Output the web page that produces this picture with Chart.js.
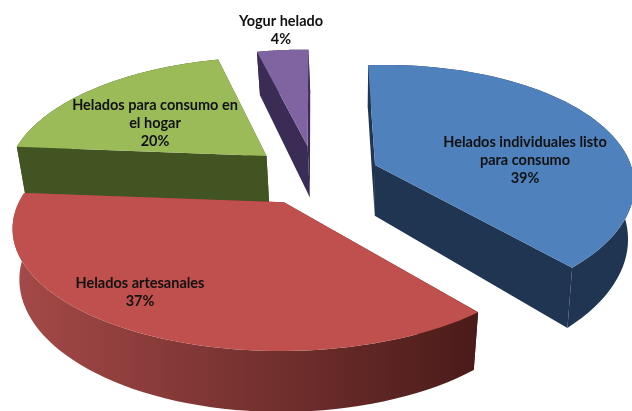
<!DOCTYPE html>
<html>
<head>
<meta charset="utf-8">
<script src="https://cdn.jsdelivr.net/npm/chart.js@4/dist/chart.umd.min.js"></script>
<style>
    html, body { margin: 0; background: #fff; }
    canvas { display: block; }
</style>
</head>
<body>
<canvas id="chart" width="632" height="411"></canvas>
<script>
// Data:
const categories = ["Helados individuales listo para consumo", "Helados artesanales", "Helados para consumo en el hogar", "Yogur helado"];
const shares = [39, 37, 20, 4];
const labelLines = [["Helados individuales listo", "para consumo"], ["Helados artesanales"], ["Helados para consumo en", "el hogar"], ["Yogur helado"]];

// Styles:
const topColors = ["#4f81bd", "#c0504d", "#9bbb59", "#8064a2"];
const wallColors = [["#1f3552", "#1f3552"], ["#a54a48", "#4a1b19"], ["#435423", "#435423"], ["#3a2c55", "#3a2c55"]];
const explode = [40, 20, 30, 45];
const sliceShift = [[24, 5], [-3, 23], [-3, 0], [14, 5]];
const sliceScale = [[1.02, 1.07], [1.04, 0.99], [1.04, 1.07], [1.03, 1.1]];
const sliceShear = [[0.02, -0.04], [0, 0], [0.04, 0], [0.04, 0]];
const sliceDepth = [48, 48, 47, 49];
const drawOrder = [3, 2, 0, 1];
const labelAnchor = [[525, 142], [140, 283], [155, 105], [281, 21]];
const lineHeight = 18;

// Perspective of the tilted pie plane (lean: walls narrow towards the bottom):
const view = { cx: 300, cy: 168, rx: 250, ry: 115, tilt: 0.2, lean: 0.0005 };

function project(u, v, depth) {
    let d = 1 - view.tilt * v;
    return {
        x: view.cx + view.rx * u / d * (1 - view.lean * depth),
        y: view.cy + (view.ry * v + depth) / d
    };
}

/**
 * Builds the outline of one slice on the tilted plane, from the angles that Chart.js computed.
 */
function sliceOutline(arc, i) {
    let p = arc.getProps(["x", "y", "startAngle", "endAngle", "outerRadius"], true);
    let mid = (p.startAngle + p.endAngle) / 2;
    let off = arc.options.offset / p.outerRadius;
    let u0 = off * Math.cos(mid);
    let v0 = off * Math.sin(mid);
    let apex = project(u0, v0, 0);
    let point = function(u, v, depth) {
        let q = project(u, v, depth);
        let dx = (q.x - apex.x) * sliceScale[i][0];
        let dy = (q.y - apex.y) * sliceScale[i][1];
        return {
            x: apex.x + dx + dy * sliceShear[i][0] + sliceShift[i][0],
            y: apex.y + dy + dx * sliceShear[i][1] + sliceShift[i][1]
        };
    };
    let top = [point(u0, v0, 0)];
    let bottom = [point(u0, v0, sliceDepth[i])];
    const steps = 60;
    for(let s = 0; s <= steps; s++) {
        let a = p.startAngle + (p.endAngle - p.startAngle) * s / steps;
        let u = u0 + Math.cos(a);
        let v = v0 + Math.sin(a);
        top.push(point(u, v, 0));
        bottom.push(point(u, v, sliceDepth[i]));
    }
    return { top: top, bottom: bottom };
}

function fillPath(ctx, points, color) {
    ctx.beginPath();
    ctx.moveTo(points[0].x, points[0].y);
    for(let k = 1; k < points.length; k++) ctx.lineTo(points[k].x, points[k].y);
    ctx.closePath();
    ctx.fillStyle = color;
    ctx.fill();
}

const pie3d = {
    id: "pie3d",
    beforeDatasetsDraw(chart) {
        let ctx = chart.ctx;
        let arcs = chart.getDatasetMeta(0).data;
        for(const i of drawOrder) {
            let shape = sliceOutline(arcs[i], i);
            let xs = shape.top.map(function(q) { return q.x; });
            let wall = ctx.createLinearGradient(Math.min(...xs), 0, Math.max(...xs), 0);
            wall.addColorStop(0, wallColors[i][0]);
            wall.addColorStop(1, wallColors[i][1]);
            // Side walls first, the face is painted over them:
            let n = shape.top.length;
            fillPath(ctx, [shape.top[0], shape.top[1], shape.bottom[1], shape.bottom[0]], wall);
            fillPath(ctx, [shape.top[0], shape.top[n - 1], shape.bottom[n - 1], shape.bottom[0]], wall);
            fillPath(ctx, shape.top.slice(1).concat(shape.bottom.slice(1).reverse()), wall);
            fillPath(ctx, shape.top, topColors[i]);
        }
        // Labels:
        ctx.fillStyle = "#111";
        ctx.font = "bold 14.5px Lato";
        ctx.textAlign = "center";
        ctx.textBaseline = "middle";
        for(let i = 0; i < categories.length; i++) {
            let lines = labelLines[i].concat([shares[i] + "%"]);
            for(let l = 0; l < lines.length; l++) {
                ctx.fillText(lines[l], labelAnchor[i][0], labelAnchor[i][1] + l * lineHeight);
            }
        }
        return false;
    }
};

let myChart = new Chart(document.getElementById("chart"), {
    type: "pie",
    data: {
        labels: categories,
        datasets: [{ data: shares, backgroundColor: topColors, offset: explode, borderWidth: 0 }]
    },
    options: {
        responsive: false,
        animation: false,
        rotation: 1,
        plugins: { legend: { display: false }, tooltip: { enabled: false } }
    },
    plugins: [pie3d]
});
</script>
</body>
</html>
